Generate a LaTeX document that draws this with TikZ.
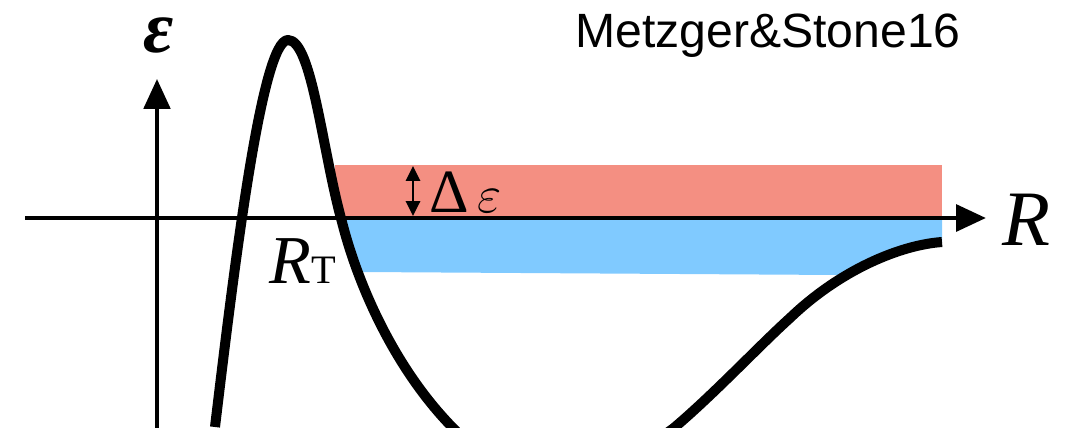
\RequirePackage{fix-cm}
\documentclass[tikz,border=0pt]{standalone}
\usepackage{fontspec}
\newfontfamily\timesfont{Liberation Serif}
\newfontfamily\helvfont{Liberation Sans}
\usetikzlibrary{arrows.meta}
\definecolor{bandred}{RGB}{244,143,130}
\definecolor{bandblue}{RGB}{128,202,255}

\begin{document}
\begin{tikzpicture}[x=0.02cm, y=-0.02cm,
    axisline/.style={line width=2.8pt, -{Triangle[length=17pt, width=15pt]}},
    potential/.style={line width=5.7pt, line join=round},
    widtharrow/.style={line width=1.7pt, {Triangle[length=8.5pt, width=8pt]}-{Triangle[length=8.5pt, width=8pt]}}]
    \clip (0,0) rectangle (1072,427);

    % energy bands
    \fill[bandred] (335,165) rectangle (942,218);
    \fill[bandblue] (340,218) -- (942,218) -- (942,242) -- (890,253)
      -- (840,275) -- (363,272) -- cycle;

    % axes
    \coordinate (xstart) at (25,218);
    \coordinate (xend) at (986,218);
    \coordinate (ystart) at (157,430);
    \coordinate (yend) at (157,79);
    \draw[axisline] (xstart) -- (xend);
    \draw[axisline, line width=2.3pt] (ystart) -- (yend);
    \node[anchor=base, inner sep=0pt, font=\timesfont\fontsize{42}{42}\selectfont\bfseries\itshape]
      (elabel) at (159,52) {ε};
    \node[anchor=base west, inner sep=0pt, font=\timesfont\fontsize{44.7}{45}\selectfont\itshape]
      (rlabel) at (1002,245) {R};

    % potential curve
    \draw[potential] (215,427) .. controls (235,260) and (262,40) .. (288,40)
      .. controls (312,40) and (322,150) .. (342,222)
      .. controls (358,285) and (395,370) .. (455,430)
      .. controls (490,472) and (630,465) .. (675,427)
      .. controls (715,393) and (760,345) .. (790,318)
      .. controls (840,270) and (900,245) .. (942,242);

    % band width
    \coordinate (dtop) at (413,166);
    \coordinate (dbot) at (413,216);
    \draw[widtharrow] (dtop) -- (dbot);
    \node[anchor=base west, inner sep=0pt, font=\timesfont\fontsize{35}{35}\selectfont]
      (dlabel) at (429,212) {Δ\fontsize{30}{30}\selectfont$\,\varepsilon$};

    \node[anchor=base west, inner sep=0pt, font=\timesfont\fontsize{39}{39}\selectfont]
      (rtlabel) at (269,283) {\textit{R}\fontsize{23}{23}\selectfont T};
    \node[anchor=base west, inner sep=0pt, font=\helvfont\fontsize{27.4}{28}\selectfont]
      (ref) at (575,47) {Metzger\&Stone16};
\end{tikzpicture}
\end{document}
